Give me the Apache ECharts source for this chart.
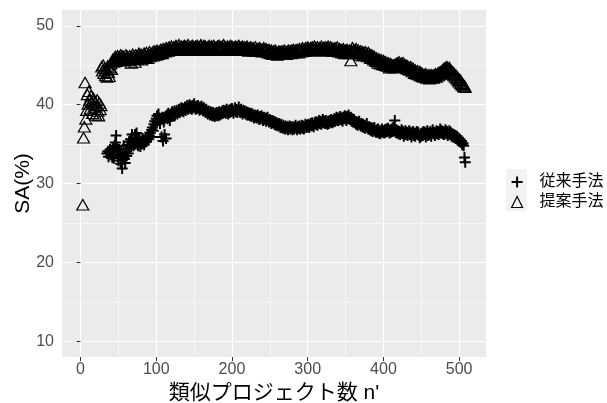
<!DOCTYPE html>
<html>
<head>
<meta charset="utf-8">
<script src="https://cdn.jsdelivr.net/npm/echarts@6/dist/echarts.min.js"></script>
<style>
html, body { margin: 0; padding: 0; background: #fff; }
#chart { width: 607px; height: 403px; }
</style>
</head>
<body>
<div id="chart"></div>
<script>
const seriesNames = ['従来手法', '提案手法'];
const xTicks = [0, 100, 200, 300, 400, 500];
const xMinorTicks = [50, 150, 250, 350, 450];
const yTicks = [10, 20, 30, 40, 50];
const yMinorTicks = [15, 25, 35, 45];

// 提案手法 (triangles), one value per n', n' = 3 .. 44
const proposedStart = 3;
const proposedEarlySA = [
    27.3, 35.8, 37.2, 42.8, 38.2, 39.3, 41.3, 40.1, 41.7, 40.6, 39.5, 41.1, 40.3, 38.9, 40.8, 39.7, 40.4, 38.7, 39.9, 40.6,
    39.2, 38.6, 40.2, 39.4, 39.9,
    44.8, 44.3, 45.0, 44.0, 44.6, 43.7, 44.4, 43.5, 44.9, 44.1, 43.6, 44.7, 45.2, 44.5, 45.5, 45.8, 45.4
];
// 提案手法, n' = 45 .. 508
const proposedBandSA = [
    45.7, 46.1, 45.5, 45.9, 46.2, 45.8, 45.6, 46.0, 46.3, 45.7,
    45.9, 46.2, 45.6, 46.0, 45.8, 46.3, 45.7, 46.1, 45.9, 45.6,
    46.2, 45.9, 45.3, 46.0, 46.4, 45.8, 46.1, 45.4, 46.3, 46.0,
    45.8, 46.2, 46.5, 45.9, 46.1, 46.4, 45.7, 46.2, 46.0, 46.5,
    46.3, 46.0, 46.6, 46.2, 45.9, 46.4, 46.7, 46.1, 46.5, 46.3,
    46.6, 46.2, 46.8, 46.4, 46.7, 46.3, 46.9, 46.6, 46.4, 46.8,
    46.6, 47.0, 46.7, 46.5, 47.1, 46.8, 47.0, 46.7, 47.2, 46.9,
    47.1, 46.8, 47.3, 47.0, 46.9, 47.4, 47.1, 46.9, 47.3, 47.0,
    47.2, 47.5, 47.0, 47.3, 47.1, 47.6, 47.2, 46.9, 47.4, 47.1,
    47.3, 47.0, 47.5, 47.2, 47.4, 46.9, 47.3, 47.6, 47.1, 47.3,
    47.0, 47.4, 47.2, 47.5, 47.1, 47.3, 46.9, 47.4, 47.2, 47.5,
    47.1, 47.3, 47.0, 47.4, 47.6, 47.2, 47.0, 47.3, 47.5, 47.1,
    47.4, 47.2, 46.9, 47.3, 47.1, 47.5, 47.2, 47.0, 47.4, 47.3,
    47.1, 47.5, 47.2, 46.9, 47.3, 47.0, 47.4, 47.2, 47.5, 47.1,
    47.3, 47.0, 47.4, 47.2, 47.6, 47.1, 47.3, 46.9, 47.2, 47.4,
    47.1, 47.3, 47.0, 47.5, 47.2, 47.4, 47.1, 46.9, 47.3, 47.2,
    47.4, 47.0, 47.3, 47.1, 47.5, 47.2, 46.9, 47.3, 47.1, 47.4,
    47.2, 47.0, 47.3, 46.9, 47.2, 47.4, 47.1, 46.8, 47.2, 47.0,
    47.3, 46.9, 47.1, 47.2, 46.8, 47.0, 47.3, 46.9, 47.1, 46.8,
    47.0, 47.2, 46.8, 47.1, 46.9, 46.7, 47.0, 47.2, 46.8, 46.9,
    47.1, 46.7, 46.9, 46.6, 47.0, 46.8, 46.5, 46.9, 46.7, 46.4,
    46.8, 46.6, 46.9, 46.5, 46.7, 46.3, 46.6, 46.8, 46.4, 46.7,
    46.5, 46.8, 46.4, 46.6, 46.9, 46.5, 46.7, 46.4, 46.8, 46.6,
    46.9, 46.6, 46.8, 46.5, 46.9, 46.7, 47.0, 46.6, 46.8, 46.9,
    46.7, 47.0, 46.8, 46.6, 47.1, 46.9, 46.7, 47.0, 47.2, 46.8,
    47.0, 46.8, 47.2, 46.9, 47.1, 47.3, 46.9, 47.1, 46.8, 47.2,
    47.0, 47.3, 46.9, 47.1, 47.4, 47.0, 47.2, 46.9, 47.3, 47.1,
    46.9, 47.2, 47.0, 47.4, 47.1, 46.8, 47.2, 47.0, 47.3, 46.9,
    47.2, 47.0, 47.4, 47.1, 46.9, 47.3, 47.0, 47.2, 46.8, 47.1,
    46.9, 47.2, 46.8, 47.0, 47.3, 46.9, 46.7, 47.1, 46.8, 47.0,
    46.6, 46.9, 47.1, 46.7, 46.5, 46.9, 46.6, 47.0, 46.8, 46.5,
    46.9, 46.6, 45.6, 46.8, 47.2, 46.7, 47.0, 46.6, 46.9, 47.1,
    46.7, 46.5, 46.9, 46.6, 46.3, 46.8, 46.5, 46.7, 46.2, 46.6,
    46.4, 46.7, 46.3, 46.5, 46.1, 46.6, 46.2, 46.4, 45.9, 46.3,
    46.0, 46.2, 45.7, 46.1, 45.8, 45.5, 45.9, 45.6, 45.3, 45.8,
    45.5, 45.2, 45.7, 45.4, 45.1, 45.6, 45.3, 45.0, 45.4, 45.2,
    44.9, 45.3, 45.0, 44.7, 45.2, 44.9, 45.1, 44.8, 45.0, 44.7,
    45.1, 44.8, 45.2, 44.9, 45.3, 45.0, 45.4, 45.1, 44.8, 45.2,
    45.0, 45.3, 44.9, 45.1, 44.8, 45.0, 44.6, 44.9, 44.5, 44.7,
    44.4, 44.8, 44.5, 44.2, 44.6, 44.3, 44.0, 44.4, 44.1, 43.9,
    44.3, 44.0, 43.8, 44.2, 43.7, 44.0, 43.6, 43.9, 43.5, 43.8,
    43.6, 43.9, 43.4, 43.7, 43.5, 43.8, 43.3, 43.6, 43.8, 43.5,
    43.7, 43.4, 43.8, 43.6, 43.9, 43.5, 43.8, 44.0, 43.7, 44.1,
    43.9, 44.2, 44.0, 44.4, 44.2, 44.6, 44.3, 44.7, 44.5, 44.8,
    44.6, 44.3, 44.7, 44.4, 44.1, 44.3, 43.9, 44.1, 43.7, 43.9,
    43.5, 43.7, 43.3, 43.5, 43.1, 42.9, 43.2, 42.7, 42.9, 42.5,
    42.6, 42.3, 42.4, 42.2
];

// 従来手法 (plus), one value per n', n' = 35 .. 70
const baselineStart = 35;
const baselineEarlySA = [
    33.8, 34.1, 33.4, 33.9, 34.3, 33.6, 34.0, 33.3, 34.5, 33.2,
    34.8, 35.2, 36.1, 34.6, 33.5, 32.9, 34.3, 33.7, 32.5, 33.9,
    31.9, 33.4, 34.8, 33.1, 32.6, 34.0, 33.5, 34.9, 33.8, 35.3,
    34.4, 35.6, 34.7, 36.2, 35.2, 34.8
];
// 従来手法, n' = 71 .. 508
const baselineBandSA = [
    35.4, 36.2, 35.0, 36.4, 35.3, 34.8, 35.6, 35.1, 34.7, 35.4,
    35.0, 35.7, 35.2, 34.9, 35.5, 35.9, 35.3, 35.7, 36.1, 35.6,
    36.0, 36.4, 35.9, 36.8, 37.1, 36.7, 37.5, 37.9, 37.4, 38.2,
    38.6, 38.0, 38.8, 38.3, 37.6, 38.1, 35.9, 38.4, 35.4, 37.8,
    36.2, 38.5, 35.7, 38.7, 38.2, 38.9, 38.4, 38.0, 38.8, 38.5,
    39.1, 38.6, 38.9, 39.2, 38.7, 39.0, 39.3, 38.8, 39.1, 39.4,
    39.0, 39.3, 39.6, 39.2, 39.5, 39.1, 39.4, 39.7, 39.3, 39.6,
    39.9, 39.4, 39.7, 40.0, 39.5, 39.8, 39.4, 39.9, 39.6, 40.1,
    39.7, 39.4, 39.8, 39.5, 39.9, 39.6, 39.3, 39.7, 39.4, 39.8,
    39.5, 39.2, 39.6, 39.3, 39.0, 39.4, 39.1, 38.8, 39.2, 38.9,
    38.7, 39.1, 38.8, 38.6, 39.0, 38.7, 38.5, 38.9, 38.6, 39.0,
    38.8, 38.6, 39.1, 38.7, 39.0, 38.8, 39.2, 38.9, 39.3, 39.0,
    39.2, 38.9, 39.4, 39.1, 38.8, 39.3, 39.0, 39.4, 39.1, 39.5,
    39.2, 38.9, 39.3, 39.6, 39.1, 39.4, 39.0, 39.3, 39.7, 39.2,
    39.0, 39.4, 39.1, 38.8, 39.3, 39.0, 39.2, 38.8, 39.1, 38.7,
    39.0, 38.7, 38.9, 38.6, 38.9, 38.5, 38.8, 38.6, 38.3, 38.7,
    38.4, 38.6, 38.3, 38.7, 38.4, 38.1, 38.5, 38.2, 38.6, 38.3,
    38.0, 38.4, 38.1, 38.3, 37.9, 38.2, 38.4, 38.0, 37.8, 38.1,
    37.9, 37.6, 38.0, 37.7, 37.9, 37.5, 37.8, 37.4, 37.7, 37.5,
    37.3, 37.6, 37.4, 37.1, 37.5, 37.2, 37.0, 37.4, 37.1, 36.9,
    37.3, 37.0, 37.2, 36.8, 37.1, 37.3, 36.9, 37.2, 37.0, 36.8,
    37.2, 36.9, 37.1, 37.4, 37.0, 36.8, 37.2, 37.0, 37.3, 36.9,
    37.1, 37.4, 37.0, 37.3, 36.9, 37.2, 37.5, 37.1, 37.4, 37.2,
    37.5, 37.1, 37.4, 37.6, 37.3, 37.7, 37.4, 37.2, 37.6, 37.8,
    37.5, 37.8, 37.4, 37.7, 38.0, 37.6, 37.9, 37.5, 37.8, 38.1,
    37.7, 37.9, 37.6, 38.0, 37.7, 37.5, 37.9, 37.6, 38.0, 37.8,
    38.1, 37.7, 38.0, 37.8, 38.2, 37.9, 38.1, 38.4, 38.0, 38.3,
    38.0, 38.2, 38.5, 38.1, 38.3, 37.9, 38.4, 38.2, 38.6, 38.3,
    38.0, 38.5, 38.2, 38.7, 38.3, 38.1, 38.4, 37.9, 38.2, 37.8,
    38.1, 37.7, 37.9, 37.5, 37.8, 37.4, 37.7, 37.9, 37.5, 37.3,
    37.6, 37.2, 37.5, 37.1, 37.4, 37.0, 37.3, 37.6, 37.1, 36.9,
    37.2, 36.8, 37.1, 36.7, 37.0, 36.6, 36.9, 37.1, 36.7, 36.5,
    36.8, 36.5, 36.9, 36.4, 36.7, 36.3, 36.6, 36.9, 36.5, 36.7,
    36.4, 36.8, 36.5, 36.9, 36.6, 37.0, 36.7, 36.4, 36.8, 36.5,
    36.9, 36.6, 37.1, 36.7, 38.0, 36.5, 36.8, 36.4, 36.7, 36.3,
    36.6, 36.2, 36.5, 36.8, 36.3, 36.6, 36.0, 36.4, 36.7, 36.2,
    36.5, 36.1, 36.4, 36.7, 36.2, 36.5, 35.9, 36.3, 36.6, 36.1,
    36.4, 36.0, 36.3, 36.6, 36.2, 36.5, 36.1, 35.8, 36.3, 36.0,
    36.4, 36.1, 36.6, 36.2, 36.5, 35.9, 36.3, 36.7, 36.1, 36.4,
    36.2, 36.6, 36.0, 36.4, 36.8, 36.3, 36.5, 36.1, 36.4, 36.7,
    36.3, 36.6, 36.2, 36.5, 36.9, 36.4, 36.7, 36.3, 36.6, 36.2,
    36.5, 36.8, 36.3, 36.6, 36.1, 36.4, 36.7, 36.2, 36.5, 36.0,
    36.3, 35.9, 36.2, 35.8, 36.1, 35.7, 36.0, 35.6, 35.8, 35.4,
    35.6, 35.2, 35.4, 34.9, 35.1, 34.8, 33.3, 32.7
];

function buildPoints(startN, values) {
    return values.map((v, i) => [startN + i, v]);
}

const baselinePoints = buildPoints(baselineStart, baselineEarlySA.concat(baselineBandSA));
const proposedPoints = buildPoints(proposedStart, proposedEarlySA.concat(proposedBandSA));

const latinFont = "'Liberation Sans', Arial, sans-serif";
const cjkFont = "'Liberation Sans', 'Noto Sans CJK JP', sans-serif";
const plusPath = 'path://M4.1,0H5.9V4.1H10V5.9H5.9V10H4.1V5.9H0V4.1H4.1Z';

const X_MIN = -24.45, X_MAX = 535.45;
const Y_MIN = 8, Y_MAX = 52;

const chart = echarts.init(document.getElementById('chart'), null, { renderer: 'canvas' });

const option = {
    animation: false,
    backgroundColor: '#ffffff',
    grid: {
        left: 62, right: 121, top: 10, bottom: 46,
        outerBoundsMode: 'none',
        show: true, backgroundColor: '#EBEBEB', borderWidth: 0
    },
    graphic: [
        { type: 'rect', left: 506, top: 169, z: 1, shape: { width: 21, height: 42 }, style: { fill: '#F2F2F2' } }
    ],
    legend: {
        orient: 'vertical',
        left: 506, top: 169,
        itemWidth: 11, itemHeight: 11, itemGap: 4,
        z: 5,
        formatter: name => '{gap| }' + name,
        textStyle: {
            fontSize: 16, lineHeight: 16, color: '#000', fontFamily: cjkFont,
            rich: { gap: { width: 12 } }
        },
        data: [
            { name: seriesNames[0], itemStyle: { color: '#000', borderWidth: 0 } },
            { name: seriesNames[1], itemStyle: { color: 'rgba(0,0,0,0)', borderColor: '#000', borderWidth: 1.2 } }
        ]
    },
    xAxis: [
        {
            type: 'value', min: X_MIN, max: X_MAX,
            name: "類似プロジェクト数 n'", nameLocation: 'middle', nameGap: 20,
            nameTextStyle: { fontSize: 21, color: '#000', fontFamily: cjkFont },
            axisLine: { show: false },
            axisTick: { show: true, length: 4, lineStyle: { color: '#333333', width: 1 }, customValues: xTicks },
            axisLabel: { customValues: xTicks, margin: 5, fontSize: 16, color: '#4D4D4D', fontFamily: latinFont },
            splitLine: { show: true, lineStyle: { color: '#ffffff', width: 1.1 } }
        },
        {
            type: 'value', min: X_MIN, max: X_MAX,
            axisLine: { show: false },
            axisTick: { show: false, customValues: xMinorTicks },
            axisLabel: { show: false, customValues: xMinorTicks },
            splitLine: { show: true, lineStyle: { color: '#ffffff', width: 0.55 } }
        }
    ],
    yAxis: [
        {
            type: 'value', min: Y_MIN, max: Y_MAX,
            name: 'SA(%)', nameLocation: 'middle', nameGap: 28, nameRotate: 90,
            nameMoveOverlap: false,
            nameTextStyle: { fontSize: 21, color: '#000', fontFamily: latinFont },
            axisLine: { show: false },
            axisTick: { show: true, length: 4, lineStyle: { color: '#333333', width: 1 }, customValues: yTicks },
            axisLabel: { customValues: yTicks, margin: 8, fontSize: 16, color: '#4D4D4D', fontFamily: latinFont },
            splitLine: { show: true, lineStyle: { color: '#ffffff', width: 1.1 } }
        },
        {
            type: 'value', min: Y_MIN, max: Y_MAX,
            axisLine: { show: false },
            axisTick: { show: false, customValues: yMinorTicks },
            axisLabel: { show: false, customValues: yMinorTicks },
            splitLine: { show: true, lineStyle: { color: '#ffffff', width: 0.55 } }
        }
    ],
    series: [
        {
            name: seriesNames[0],
            type: 'scatter',
            data: baselinePoints,
            symbol: plusPath,
            symbolSize: 11,
            itemStyle: { color: '#000', opacity: 1 },
            silent: true
        },
        {
            name: seriesNames[1],
            type: 'scatter',
            data: proposedPoints,
            symbol: 'triangle',
            symbolSize: [12, 10.5],
            itemStyle: { color: 'rgba(0,0,0,0)', borderColor: '#000', borderWidth: 1.2, opacity: 1 },
            silent: true
        }
    ]
};

chart.setOption(option);
</script>
</body>
</html>
